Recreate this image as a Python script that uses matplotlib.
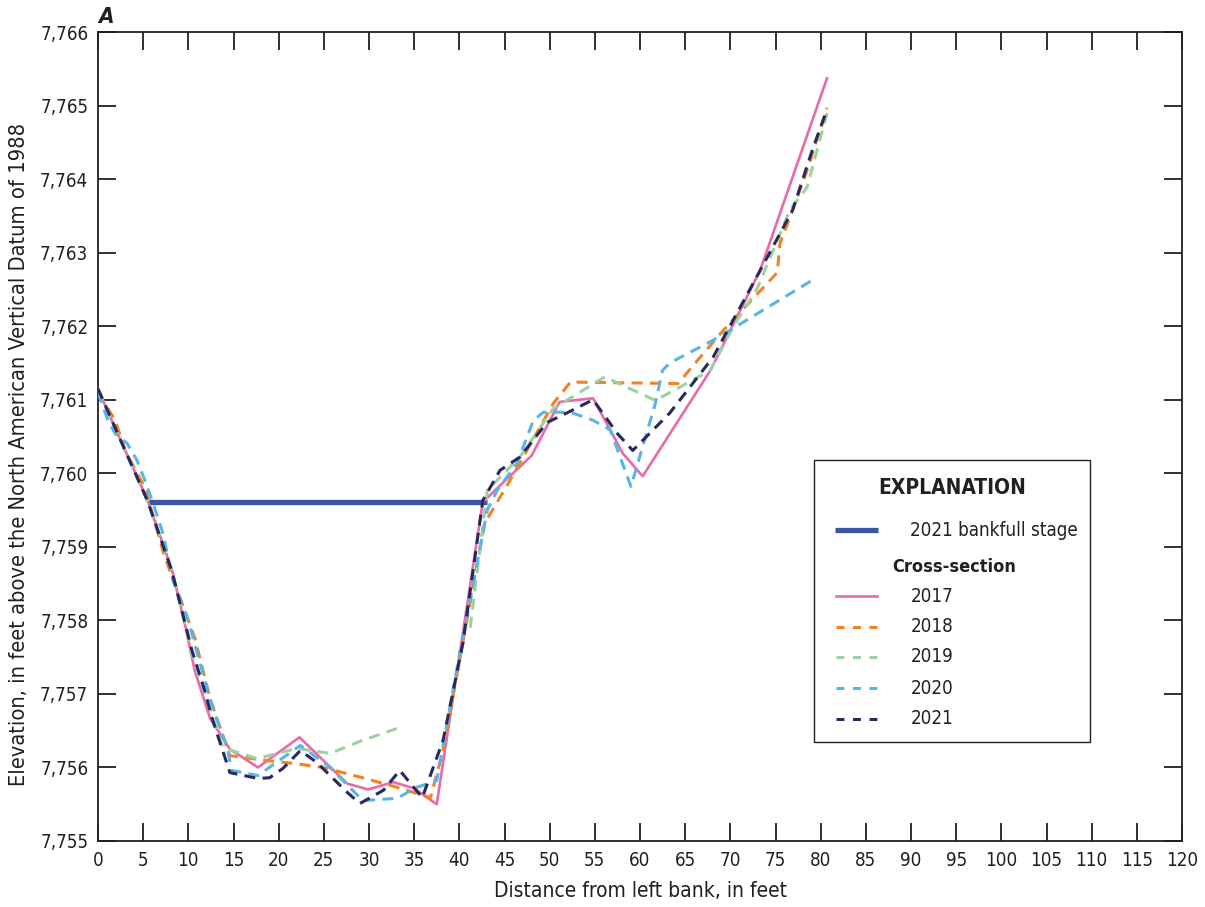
import matplotlib
matplotlib.use("Agg")
import matplotlib.pyplot as plt
import numpy as np
from matplotlib.lines import Line2D
from matplotlib.patches import Rectangle

plt.rcParams['font.family'] = ['DejaVu Sans']
plt.rcParams['font.stretch'] = 'condensed'

# ---- data ----
x2017 = [0, 2.5, 5.5, 8.2, 9.6, 10.7, 12.4, 14.6, 17.7, 22.3, 27.6, 29.9, 32.7, 34.9, 37.5,
         42.6, 48.0, 51.1, 54.8, 58.1, 60.3, 67.8, 73.3, 80.7]
y2017 = [7761.14, 7760.45, 7759.63, 7758.68, 7757.96, 7757.32, 7756.67, 7756.25, 7756.00, 7756.41,
         7755.78, 7755.70, 7755.80, 7755.72, 7755.50,
         7759.61, 7760.24, 7760.97, 7761.02, 7760.27, 7759.96, 7761.40, 7762.76, 7765.37]

x2018 = [0, 1.9, 3.0, 5.2, 7.4, 10.7, 12.4, 14.6, 18.3, 22.0, 24.9, 29.3, 33.1, 36.8, 38.2,
         42.8, 45.6, 50.4, 52.3, 64.2, 68.9, 75.2, 75.5, 76.6, 78.5, 80.7]
y2018 = [7761.10, 7760.72, 7760.31, 7759.80, 7758.86, 7757.77, 7756.94, 7756.16, 7756.10, 7756.05,
         7756.00, 7755.86, 7755.73, 7755.59, 7756.23,
         7759.32, 7759.90, 7760.95, 7761.24, 7761.22, 7761.90, 7762.73, 7763.13, 7763.48, 7764.12, 7764.97]

x2019a = [0, 2.5, 5.5, 8.2, 10.6, 12.4, 13.8, 17.6, 22.0, 25.7, 29.3, 33.8]
y2019a = [7761.12, 7760.45, 7759.62, 7758.68, 7757.45, 7756.80, 7756.27, 7756.12, 7756.26, 7756.19,
          7756.37, 7756.56]
x2019b = [41.2, 43.1, 46.7, 50.4, 56.1, 61.7, 67.8, 70.3, 73.0, 76.6, 78.5, 80.8]
y2019b = [7757.90, 7759.77, 7760.22, 7760.88, 7761.31, 7760.99, 7761.40, 7761.99, 7762.52, 7763.58,
          7763.89, 7764.94]

x2020 = [0, 1.1, 1.9, 3.2, 4.3, 5.2, 6.1, 7.2, 8.3, 10.0, 11.1, 12.6, 14.3, 14.8, 17.7, 22.4, 25.7,
         29.3, 33.1, 35.3, 37.5, 39.9, 43.1, 44.2, 46.4, 48.2, 49.3, 52.3, 54.8, 56.7, 59.0,
         61.7, 62.5, 63.3, 68.1, 70.3, 79.4]
y2020 = [7761.10, 7760.72, 7760.54, 7760.41, 7760.18, 7759.90, 7759.59, 7759.18, 7758.54, 7758.00,
         7757.50, 7756.85, 7756.27, 7755.96, 7755.89, 7756.30, 7756.00,
         7755.55, 7755.58, 7755.73, 7755.82, 7757.46, 7759.50, 7759.77, 7760.14, 7760.72, 7760.83,
         7760.83, 7760.72, 7760.59, 7759.82,
         7760.95, 7761.40, 7761.50, 7761.81, 7761.97, 7762.65]

x2021 = [0, 2.5, 5.5, 8.2, 10.4, 11.8, 12.6, 14.6, 17.7, 19.0, 20.5, 22.4, 24.2, 27.6, 29.0, 31.6,
         33.4, 35.9, 38.2, 40.4, 42.6, 44.5, 46.7, 49.7, 51.9, 54.8, 57.5, 59.2, 63.3, 68.1,
         71.1, 74.1, 76.9, 79.2, 80.7]
y2021 = [7761.15, 7760.45, 7759.62, 7758.66, 7757.59, 7757.05, 7756.68, 7755.93, 7755.85, 7755.86,
         7755.99, 7756.23, 7756.07, 7755.66, 7755.51, 7755.69,
         7755.96, 7755.59, 7756.37, 7757.69, 7759.63, 7760.04, 7760.22, 7760.69, 7760.82, 7761.00,
         7760.54, 7760.31, 7760.82, 7761.58,
         7762.26, 7762.94, 7763.58, 7764.44, 7764.94]

bankfull_x = [5.5, 43.1]
bankfull_y = [7759.61, 7759.61]

x_ticks = list(range(0, 121, 5))
y_ticks = list(range(7755, 7767))

# ---- style ----
c2017 = '#e86aa8'
c2018 = '#f58220'
c2019 = '#9dd0a3'
c2020 = '#5ab4e5'
c2021 = '#262a5f'
cbank = '#3a55a4'
ink = '#231f20'
dash = (0, (3.6, 2.4))

fig = plt.figure(figsize=(12.05, 9.07), dpi=100)
ax = fig.add_axes([98/1205, 1-841/907, (1182-98)/1205, (841-32)/907])

ax.plot(bankfull_x, bankfull_y, color=cbank, lw=3.8, solid_capstyle='butt', zorder=2)
ax.plot(x2017, y2017, color=c2017, lw=1.9, zorder=3)
ax.plot(x2018, y2018, color=c2018, lw=2.2, ls=dash, zorder=3)
ax.plot(x2019a, y2019a, color=c2019, lw=2.2, ls=dash, zorder=3)
ax.plot(x2019b, y2019b, color=c2019, lw=2.2, ls=dash, zorder=3)
ax.plot(x2020, y2020, color=c2020, lw=2.2, ls=dash, zorder=3)
ax.plot(x2021, y2021, color=c2021, lw=2.2, ls=dash, zorder=4)

ax.set_xlim(0, 120)
ax.set_ylim(7755, 7766)
ax.set_xticks(x_ticks)
ax.set_yticks(y_ticks)
ax.set_xticklabels([str(t) for t in x_ticks])
ax.set_yticklabels([f"{t:,}" for t in y_ticks])
ax.tick_params(axis='both', direction='in', length=13, width=1.3, color=ink,
               labelsize=13.5, labelcolor=ink, top=True, right=True, pad=7)
for s in ax.spines.values():
    s.set_color(ink)
    s.set_linewidth(1.3)

ax.set_xlabel('Distance from left bank, in feet', fontsize=15, color=ink, labelpad=8)
ax.set_ylabel('Elevation, in feet above the North American Vertical Datum of 1988',
              fontsize=15.7, color=ink)
ax.yaxis.set_label_coords(-0.064, 0.478)

fig.text(98/1205, 1-17/907, 'A', fontsize=16, fontweight='bold', style='italic',
         color=ink, ha='left', va='center')

# ---- explanation box ----
def ay(py):
    return 1 - (py - 32) / 809
def axx(px):
    return (px - 98) / 1084

ax.add_patch(Rectangle((axx(814), ay(742)), axx(1090) - axx(814), ay(460) - ay(742),
                       transform=ax.transAxes, fill=True, facecolor='white',
                       edgecolor=ink, lw=1.0, zorder=5))
ax.text(axx(952), ay(488), 'EXPLANATION', transform=ax.transAxes, fontsize=15,
        fontweight='bold', ha='center', va='center', color=ink, zorder=6)
ax.add_line(Line2D([axx(835), axx(878)], [ay(530), ay(530)], transform=ax.transAxes,
                   color=cbank, lw=3.8, solid_capstyle='butt', zorder=6))
ax.text(axx(910), ay(530), '2021 bankfull stage', transform=ax.transAxes, fontsize=13.5,
        ha='left', va='center', color=ink, zorder=6)
ax.text(axx(892), ay(567), 'Cross-section', transform=ax.transAxes, fontsize=13,
        fontweight='bold', ha='left', va='center', color=ink, zorder=6)

entries = [('2017', c2017, '-', 596), ('2018', c2018, (0, (2.6, 2.8)), 627),
           ('2019', c2019, (0, (2.6, 2.8)), 657), ('2020', c2020, (0, (2.6, 2.8)), 688),
           ('2021', c2021, (0, (2.6, 2.8)), 719)]
for lab, col, ls, py in entries:
    ax.add_line(Line2D([axx(836), axx(877)], [ay(py), ay(py)], transform=ax.transAxes,
                       color=col, lw=1.9 if ls == '-' else 2.2, ls=ls, zorder=6))
    ax.text(axx(911), ay(py), lab, transform=ax.transAxes, fontsize=13.5,
            ha='left', va='center', color=ink, zorder=6)

fig.savefig('out.png', dpi=100)
